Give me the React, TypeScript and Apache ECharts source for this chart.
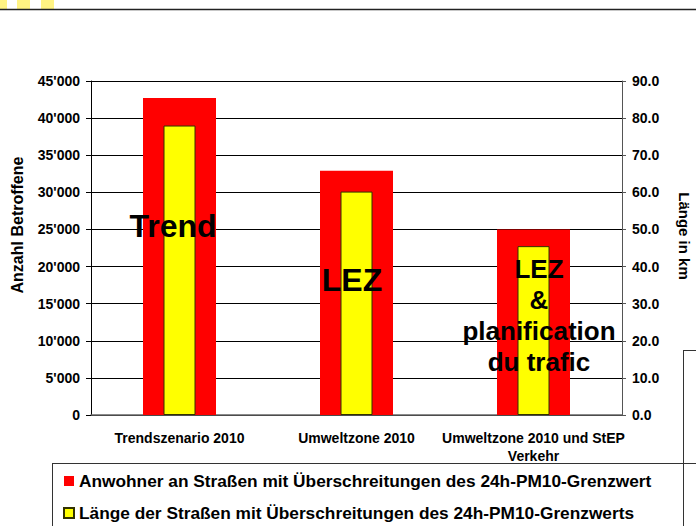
import React, { useEffect, useRef } from "react";
import * as echarts from "echarts";

const categories = ["Trendszenario 2010", "Umweltzone 2010", "Umweltzone 2010 und StEP\nVerkehr"];
const residents = [42700, 32900, 25000];
const lengthKm = [78.0, 60.2, 45.5];
const seriesNames = [
  "Anwohner an Straßen mit Überschreitungen des 24h-PM10-Grenzwert",
  "Länge der Straßen mit Überschreitungen des 24h-PM10-Grenzwerts",
];
const leftAxis = { min: 0, max: 45000, interval: 5000, name: "Anzahl Betroffene" };
const rightAxis = { min: 0, max: 90, interval: 10, name: "Länge in km" };
const overlayLabels = ["Trend", "LEZ", "LEZ\n&\nplanification\ndu trafic"];

const FONT = "'Liberation Sans', Arial, Helvetica, sans-serif";

export default function App() {
  const ref = useRef<HTMLDivElement>(null);
  useEffect(() => {
    if (!ref.current) return;
    const chart = echarts.init(ref.current, null, { renderer: "svg" });
    const fmtThousands = (v: number) => String(v).replace(/\B(?=(\d{3})+(?!\d))/g, "'");
    chart.setOption({
      animation: false,
      backgroundColor: "#ffffff",
      textStyle: { fontFamily: FONT },
      grid: { left: 91, right: 74, top: 81, bottom: 111, containLabel: false, outerBoundsMode: "none" },
      legend: {
        orient: "vertical",
        left: 63,
        top: 471,
        padding: 0,
        itemWidth: 10,
        itemHeight: 10,
        itemGap: 12,
        icon: "rect",
        data: seriesNames,
        textStyle: { fontFamily: FONT, fontWeight: "bold", fontSize: 17.3, color: "#000", lineHeight: 20 },
      },
      xAxis: [
        {
          type: "category",
          data: categories,
          axisLine: { show: true, lineStyle: { color: "#666", width: 1.5 } },
          axisTick: { show: false },
          axisLabel: {
            color: "#000",
            fontFamily: FONT,
            fontWeight: "bold",
            fontSize: 14,
            lineHeight: 18,
            margin: 14,
            interval: 0,
          },
        },
        { type: "category", data: categories, show: false },
      ],
      yAxis: [
        {
          type: "value",
          min: leftAxis.min,
          max: leftAxis.max,
          interval: leftAxis.interval,
          axisLine: { show: true, lineStyle: { color: "#000", width: 1 } },
          axisTick: { show: true, length: 5, lineStyle: { color: "#000" } },
          axisLabel: {
            color: "#000",
            fontFamily: FONT,
            fontWeight: "bold",
            fontSize: 14,
            margin: 11,
            formatter: (v: number) => fmtThousands(v),
          },
          splitLine: { show: true, lineStyle: { color: "#000", width: 1 } },
        },
        {
          type: "value",
          position: "right",
          min: rightAxis.min,
          max: rightAxis.max,
          interval: rightAxis.interval,
          axisLine: { show: true, lineStyle: { color: "#555", width: 1 } },
          axisTick: { show: true, length: 4, lineStyle: { color: "#555" } },
          axisLabel: {
            color: "#000",
            fontFamily: FONT,
            fontWeight: "bold",
            fontSize: 14,
            margin: 10,
            formatter: (v: number) => v.toFixed(1),
          },
          splitLine: { show: false },
        },
      ],
      series: [
        {
          name: seriesNames[0],
          type: "bar",
          xAxisIndex: 0,
          yAxisIndex: 0,
          barWidth: 73,
          z: 2,
          itemStyle: { color: "#FF0000" },
          data: residents,
        },
        {
          name: seriesNames[1],
          type: "bar",
          xAxisIndex: 1,
          yAxisIndex: 1,
          barWidth: 32,
          z: 3,
          itemStyle: { color: "#FFFF00", borderColor: "#333300", borderWidth: 1 },
          data: lengthKm,
        },
      ],
      graphic: [
        { type: "rect", shape: { x: 0, y: 0, width: 7, height: 9 }, style: { fill: "#FFF383" } },
        { type: "rect", shape: { x: 17, y: 0, width: 13, height: 9 }, style: { fill: "#FFF383" } },
        { type: "rect", shape: { x: 41, y: 0, width: 13, height: 9 }, style: { fill: "#FFF383" } },
        { type: "line", shape: { x1: 0, y1: 9.5, x2: 696, y2: 9.5 }, style: { stroke: "#222", lineWidth: 1.5 } },
        { type: "line", shape: { x1: 52, y1: 463.5, x2: 696, y2: 463.5 }, style: { stroke: "#333", lineWidth: 1 } },
        { type: "line", shape: { x1: 52.5, y1: 463, x2: 52.5, y2: 526 }, style: { stroke: "#333", lineWidth: 1 } },
        { type: "line", shape: { x1: 683.5, y1: 350, x2: 683.5, y2: 526 }, style: { stroke: "#333", lineWidth: 1 } },
        { type: "line", shape: { x1: 683, y1: 350.5, x2: 696, y2: 350.5 }, style: { stroke: "#333", lineWidth: 1 } },
        {
          type: "text",
          x: 17,
          y: 225,
          rotation: Math.PI / 2,
          style: { text: leftAxis.name, font: `bold 16px ${FONT}`, fill: "#000", align: "center", verticalAlign: "middle" },
        },
        {
          type: "text",
          x: 684,
          y: 236,
          rotation: -Math.PI / 2,
          style: { text: rightAxis.name, font: `bold 15px ${FONT}`, fill: "#000", align: "center", verticalAlign: "middle" },
        },
        {
          type: "text",
          x: 173,
          y: 226,
          z: 10,
          style: { text: overlayLabels[0], font: `bold 32px ${FONT}`, fill: "#000", align: "center", verticalAlign: "middle" },
        },
        {
          type: "text",
          x: 352,
          y: 280,
          z: 10,
          style: { text: overlayLabels[1], font: `bold 32px ${FONT}`, fill: "#000", align: "center", verticalAlign: "middle" },
        },
        {
          type: "text",
          x: 539,
          y: 253,
          z: 10,
          style: {
            text: overlayLabels[2],
            font: `bold 26px ${FONT}`,
            fill: "#000",
            align: "center",
            verticalAlign: "top",
            lineHeight: 31,
          },
        },
      ],
    });
    return () => chart.dispose();
  }, []);
  return <div ref={ref} style={{ position: "fixed", left: 0, top: 0, width: 696, height: 526 }} />;
}
